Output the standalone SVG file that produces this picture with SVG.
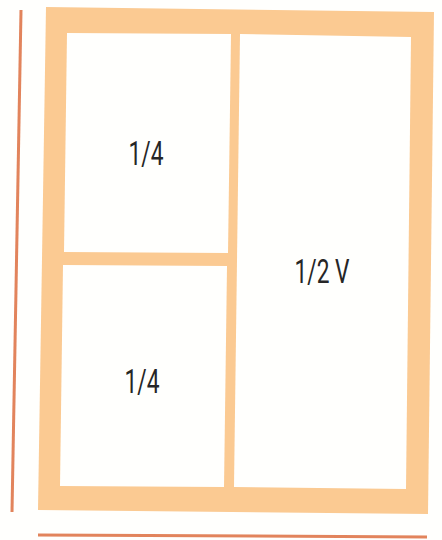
<svg xmlns="http://www.w3.org/2000/svg" width="442" height="540" viewBox="0 0 442 540">
<style>
.frame{fill:#fbca92}
.pane{fill:#fffffd}
.rule{stroke:#e2845c;stroke-width:3;fill:none}
.lbl{font-family:"Roboto","DejaVu Sans",sans-serif;font-size:34px;fill:#262626;text-anchor:middle}
</style>
<rect width="442" height="540" fill="#fffffd"/>
<g id="window">
<polygon class="frame" points="46,7 434,12 428,514 38,510"/>
<polygon class="pane" points="67,33 231,34 228,253 64,252"/>
<polygon class="pane" points="63,265 227,266 224,487 60,486"/>
<polygon class="pane" points="240,34 411,37 406,489 234,487"/>
</g>
<g id="connectors">
<line class="rule" x1="21" y1="10" x2="12" y2="512"/>
<line class="rule" x1="38" y1="535" x2="427" y2="537"/>
</g>
<g id="labels">
<text class="lbl" x="146" y="165" textLength="35" lengthAdjust="spacingAndGlyphs">1/4</text>
<text class="lbl" x="142" y="393" textLength="35" lengthAdjust="spacingAndGlyphs">1/4</text>
<text class="lbl" x="322" y="283" textLength="55" lengthAdjust="spacingAndGlyphs">1/2 V</text>
</g>
</svg>
